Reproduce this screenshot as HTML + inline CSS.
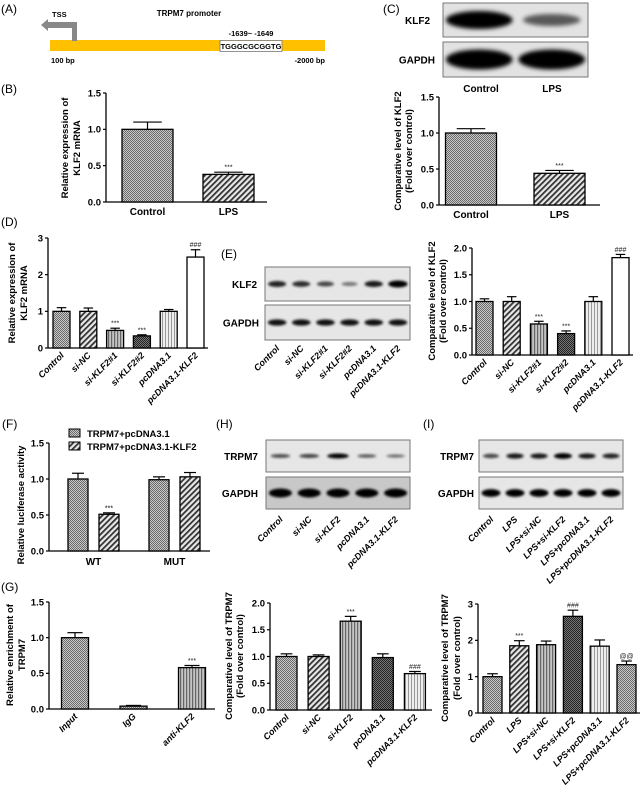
<!DOCTYPE html>
<html><head><meta charset="utf-8"><style>
html,body{margin:0;padding:0;background:#fff}
svg{display:block}
text{font-family:"Liberation Sans",Arial,sans-serif}
</style></head><body>
<svg id="fig" width="643" height="800" viewBox="0 0 643 800" xmlns="http://www.w3.org/2000/svg">
<defs>
<pattern id="chk" width="2" height="2" patternUnits="userSpaceOnUse"><rect width="2" height="2" fill="#c8c8c8"/><rect width="1" height="1" fill="#6a6a6a"/><rect x="1" y="1" width="1" height="1" fill="#6a6a6a"/></pattern>
<pattern id="diag" width="4" height="4" patternUnits="userSpaceOnUse" patternTransform="rotate(45)"><rect width="4" height="4" fill="#e8e8e8"/><rect width="1.8" height="4" fill="#333"/></pattern>
<pattern id="vs" width="3" height="3" patternUnits="userSpaceOnUse"><rect width="3" height="3" fill="#c4c4c4"/><rect width="1.2" height="3" fill="#666"/></pattern>
<pattern id="dark" width="2" height="2" patternUnits="userSpaceOnUse"><rect width="2" height="2" fill="#777"/><rect width="1" height="1" fill="#222"/><rect x="1" y="1" width="1" height="1" fill="#222"/></pattern>
<pattern id="lvs" width="3" height="3" patternUnits="userSpaceOnUse"><rect width="3" height="3" fill="#eee"/><rect width="1" height="3" fill="#999"/></pattern>
<filter id="blur" x="-20%" y="-50%" width="140%" height="200%"><feGaussianBlur stdDeviation="1.2"/></filter>
<filter id="blur2" x="-20%" y="-50%" width="140%" height="200%"><feGaussianBlur stdDeviation="2"/></filter>
</defs>
<g id="root"></g>
</svg>
<script>
// ---- data arrays ----
const bCats=['Control','LPS'];
const bVals=[1.0,0.38];
const bErrs=[0.1,0.03];
const bSig=['','***'];
const bTicks=[0,0.5,1.0,1.5];

const cCats=['Control','LPS'];
const cVals=[1.0,0.44];
const cErrs=[0.06,0.04];
const cSig=['','***'];
const cTicks=[0,0.5,1.0,1.5];
const cBand=[1.0,0.45];
const cGapdh=[1.0,1.0];

const dCats=['Control','si-NC','si-KLF2#1','si-KLF2#2','pcDNA3.1','pcDNA3.1-KLF2'];
const dVals=[1.0,1.0,0.48,0.33,1.0,2.48];
const dErrs=[0.1,0.09,0.06,0.03,0.05,0.2];
const dSig=['','','***','***','','###'];
const dTicks=[0,1,2,3];

const eCats=['Control','si-NC','si-KLF2#1','si-KLF2#2','pcDNA3.1','pcDNA3.1-KLF2'];
const eVals=[1.0,1.0,0.58,0.4,1.0,1.82];
const eErrs=[0.05,0.09,0.05,0.05,0.09,0.06];
const eSig=['','','***','***','','###'];
const eTicks=[0,0.5,1.0,1.5,2.0];
const eBand=[0.75,0.7,0.55,0.3,0.8,1.0];
const eGapdh=[0.85,0.85,0.85,0.85,0.85,0.85];

const fGroups=['WT','MUT'];
const fSeries=['TRPM7+pcDNA3.1','TRPM7+pcDNA3.1-KLF2'];
const fVals1=[1.0,0.99];
const fVals2=[0.51,1.03];
const fErrs1=[0.08,0.04];
const fErrs2=[0.02,0.06];
const fSig2=['***',''];
const fTicks=[0,0.5,1.0,1.5];

const gCats=['Input','IgG','anti-KLF2'];
const gVals=[1.0,0.04,0.58];
const gErrs=[0.07,0.01,0.03];
const gSig=['','','***'];
const gTicks=[0,0.5,1.0,1.5];

const hCats=['Control','si-NC','si-KLF2','pcDNA3.1','pcDNA3.1-KLF2'];
const hVals=[1.0,1.0,1.66,0.98,0.68];
const hErrs=[0.05,0.03,0.09,0.07,0.04];
const hSig=['','','***','','###'];
const hTicks=[0,0.5,1.0,1.5,2.0];
const hBand=[0.55,0.6,0.95,0.45,0.35];
const hGapdh=[1,1,1,1,1];

const iCats=['Control','LPS','LPS+si-NC','LPS+si-KLF2','LPS+pcDNA3.1','LPS+pcDNA3.1-KLF2'];
const iVals=[1.0,1.85,1.88,2.66,1.84,1.33];
const iErrs=[0.08,0.14,0.1,0.17,0.17,0.1];
const iSig=['','***','','###','','@@'];
const iTicks=[0,1,2,3];
const iBand=[0.55,0.8,0.8,0.95,0.8,0.75];
const iGapdh=[0.95,0.95,0.95,0.95,0.95,0.95];

// ---- helpers ----
const NS='http://www.w3.org/2000/svg';
const root=document.getElementById('root');
function el(tag,attrs,parent,txt){const e=document.createElementNS(NS,tag);for(const k in attrs)e.setAttribute(k,attrs[k]);if(txt!==undefined)e.textContent=txt;(parent||root).appendChild(e);return e;}
function fmt(v,dec){return v.toFixed(dec);}

function panelLabel(t,x,y){const e=el('text',{x:x,y:y,'font-size':12},root,t);

}

function yLabel(lines,x,cy,name){
  const g=el('g',{});
  
  
  lines.forEach((ln,i)=>{el('text',{x:0,y:0,'font-size':9.5,'font-weight':'bold','text-anchor':'middle',transform:`translate(${x[i]},${cy}) rotate(-90)`},g,ln);});
}

function chart(o){
  const g=el('g',{});
  
  
  const y=v=>o.yBot-(v/o.max)*(o.yBot-o.yTop);
  const xc=i=>o.c0+i*o.step;
  const ya=el('line',{x1:o.x0,y1:o.yTop,x2:o.x0,y2:o.yBot,stroke:'#000','stroke-width':1.3},g);
  
  
  const xa=el('line',{x1:o.x0,y1:o.yBot,x2:o.xEnd,y2:o.yBot,stroke:'#000','stroke-width':1.3},g);
  
  
  o.ticks.forEach(t=>{
    el('line',{x1:o.x0-3,y1:y(t),x2:o.x0,y2:y(t),stroke:'#000','stroke-width':1.2},g);
    const tl=el('text',{x:o.x0-5,y:y(t)+3.3,'font-size':9.5,'font-weight':'bold','text-anchor':'end'},g,fmt(t,o.dec));
    
    
  });
  o.vals.forEach((v,i)=>{
    const cx=xc(i), top=y(v), et=y(v+o.errs[i]);
    el('line',{x1:cx,y1:top,x2:cx,y2:et,stroke:'#000','stroke-width':1.2},g);
    el('line',{x1:cx-o.w*0.28,y1:et,x2:cx+o.w*0.28,y2:et,stroke:'#000','stroke-width':1.2},g);
    const b=el('rect',{x:cx-o.w/2,y:top,width:o.w,height:o.yBot-top,fill:o.pats[i],stroke:'#000','stroke-width':1.3},g);
    
    
    if(o.sig[i]){const s=el('text',{x:cx,y:et-2.5,'font-size':7,'text-anchor':'middle',fill:'#222'},g,o.sig[i]);
      
      }
    let lab;
    if(o.rot){lab=el('text',{x:0,y:0,'font-size':9,'font-weight':'bold','font-style':'italic','text-anchor':'end',transform:`translate(${cx+3},${o.yBot+8}) rotate(-45)`},g,o.cats[i]);}
    else{lab=el('text',{x:cx,y:o.yBot+13,'font-size':10,'font-weight':'bold','text-anchor':'middle'},g,o.cats[i]);}
    
    
  });
  return g;
}

function blot(o){
  const g=el('g',{});
  
  
  const n=o.band.length, lw=(o.x1-o.x0)/n;
  el('rect',{x:o.x0,y:o.y0,width:o.x1-o.x0,height:o.y1-o.y0,fill:o.bg||'#e6e6e6',stroke:'#777','stroke-width':1},g);
  o.band.forEach((v,i)=>{
    const cx=o.x0+lw*(i+0.5), cy=(o.y0+o.y1)/2;
    const e=el('ellipse',{cx:cx,cy:cy,rx:lw*o.rw*(0.75+0.25*v),ry:o.h*(0.4+0.6*v),fill:'#000','fill-opacity':Math.min(1,0.25+0.8*v),filter:o.big?'url(#blur2)':'url(#blur)'},g);
    
    
  });
  const t=el('text',{x:o.lx,y:(o.y0+o.y1)/2+4,'font-size':10,'font-weight':'bold','text-anchor':'end'},g,o.label);
  
  
}
function laneLabels(cats,x0,x1,yb,name){
  const g=el('g',{});
  
  
  const lw=(x1-x0)/cats.length;
  cats.forEach((c,i)=>{el('text',{x:0,y:0,'font-size':9,'font-weight':'bold','font-style':'italic','text-anchor':'end',transform:`translate(${x0+lw*(i+0.5)+3},${yb}) rotate(-45)`},g,c);});
}

// ---- Panel A ----
panelLabel('(A)',1,13);
(function(){
  const g=el('g',{});
  
  
  el('rect',{x:50,y:40,width:275,height:11,fill:'#ffc000'},g);
  const box=el('rect',{x:220,y:40.5,width:62,height:11,fill:'#fff',stroke:'#777','stroke-width':0.8},g);
  
  
  el('text',{x:251,y:49,'font-size':7.5,'text-anchor':'middle','font-weight':'bold'},g,'TGGGCGCGGTG');
  el('text',{x:251,y:36,'font-size':7.5,'text-anchor':'middle','font-weight':'bold'},g,'-1639~ -1649');
  el('text',{x:189,y:16,'font-size':8,'text-anchor':'middle','font-weight':'bold'},g,'TRPM7 promoter');
  el('text',{x:51,y:63,'font-size':7.5,'font-weight':'bold'},g,'100 bp');
  el('text',{x:325,y:63,'font-size':7.5,'font-weight':'bold','text-anchor':'end'},g,'-2000 bp');
  const ar=el('path',{d:'M72 41 L72 28 L48 28 L48 31 L41 25 L48 19 L48 22 L77 22 L77 41 Z',fill:'#888'},g);
  
  
  el('text',{x:52,y:17,'font-size':7.5,'font-weight':'bold'},g,'TSS');
})();

// ---- Panel C blot ----
panelLabel('(C)',383,13);
blot({name:'blot-c-klf2',x0:443,x1:588,y0:3,y1:37,band:cBand,rw:0.46,h:9,label:'KLF2',lx:430,big:true,bg:'#e2e2e2'});
blot({name:'blot-c-gapdh',x0:443,x1:588,y0:42,y1:77,band:cGapdh,rw:0.46,h:10,label:'GAPDH',lx:435,big:true,bg:'#e2e2e2'});
(function(){const g=el('g',{});


el('text',{x:481,y:92,'font-size':10,'font-weight':'bold','text-anchor':'middle'},g,'Control');
el('text',{x:552,y:92,'font-size':10,'font-weight':'bold','text-anchor':'middle'},g,'LPS');})();

// ---- Panel B ----
panelLabel('(B)',1,93);
chart({name:'chart-b',x0:106,yTop:93,yBot:202,xEnd:267,max:1.5,ticks:bTicks,dec:1,cats:bCats,vals:bVals,errs:bErrs,sig:bSig,pats:['url(#chk)','url(#diag)'],c0:147.5,step:81,w:51});
yLabel(['Relative expression of','KLF2 mRNA'],[68,80],148,'y-axis-title-b');

// ---- Panel C chart ----
chart({name:'chart-c',x0:439,yTop:97,yBot:205,xEnd:600,max:1.5,ticks:cTicks,dec:1,cats:cCats,vals:cVals,errs:cErrs,sig:cSig,pats:['url(#chk)','url(#diag)'],c0:471,step:88.5,w:51});
yLabel(['Comparative level of KLF2','(Fold over control)'],[401,412],151,'y-axis-title-c');

// ---- Panel D ----
panelLabel('(D)',1,226);
const six=['url(#chk)','url(#diag)','url(#vs)','url(#dark)','url(#lvs)','#fff'];
chart({name:'chart-d',x0:48,yTop:238,yBot:348,xEnd:208,max:3,ticks:dTicks,dec:0,cats:dCats,vals:dVals,errs:dErrs,sig:dSig,pats:six,c0:61.5,step:26.8,w:17,rot:true});
yLabel(['Relative expression of','KLF2 mRNA'],[15,27],293,'y-axis-title-d');

// ---- Panel E ----
panelLabel('(E)',221,258);
blot({name:'blot-e-klf2',x0:265,x1:410,y0:267,y1:301,band:eBand,rw:0.4,h:3.5,label:'KLF2',lx:257});
blot({name:'blot-e-gapdh',x0:265,x1:410,y0:305,y1:340,band:eGapdh,rw:0.4,h:3.5,label:'GAPDH',lx:259});
laneLabels(eCats,265,410,349,'blot-e-lane-labels');
chart({name:'chart-e',x0:472,yTop:248,yBot:355,xEnd:633,max:2,ticks:eTicks,dec:1,cats:eCats,vals:eVals,errs:eErrs,sig:eSig,pats:six,c0:484.5,step:27.2,w:17,rot:true});
yLabel(['Comparative level of KLF2','(Fold over control)'],[435,446],301,'y-axis-title-e');

// ---- Panel F ----
panelLabel('(F)',2,428);
(function(){
  const g=el('g',{});
  
  
  const x0=49,yTop=443,yBot=551,xEnd=210,max=1.5;
  const y=v=>yBot-(v/max)*(yBot-yTop);
  const gc=[93.5,174.5], off=15.5, w=20;
  el('line',{x1:x0,y1:yTop,x2:x0,y2:yBot,stroke:'#000','stroke-width':1.3},g);
  el('line',{x1:x0,y1:yBot,x2:xEnd,y2:yBot,stroke:'#000','stroke-width':1.3},g);
  fTicks.forEach(t=>{el('line',{x1:x0-3,y1:y(t),x2:x0,y2:y(t),stroke:'#000','stroke-width':1.2},g);
    el('text',{x:x0-5,y:y(t)+3.3,'font-size':9.5,'font-weight':'bold','text-anchor':'end'},g,t.toFixed(1));});
  const series=[[fVals1,fErrs1,'url(#chk)',-1,['','']],[fVals2,fErrs2,'url(#diag)',1,fSig2]];
  fGroups.forEach((gn,gi)=>{
    series.forEach(s=>{
      const v=s[0][gi], e=s[1][gi], cx=gc[gi]+s[3]*off, top=y(v), et=y(v+e);
      el('line',{x1:cx,y1:top,x2:cx,y2:et,stroke:'#000','stroke-width':1.2},g);
      el('line',{x1:cx-6,y1:et,x2:cx+6,y2:et,stroke:'#000','stroke-width':1.2},g);
      const b=el('rect',{x:cx-w/2,y:top,width:w,height:yBot-top,fill:s[2],stroke:'#000','stroke-width':1.3},g);
      
      
      if(s[4][gi]) el('text',{x:cx,y:et-2.5,'font-size':7,'text-anchor':'middle'},g,s[4][gi]);
    });
    el('text',{x:gc[gi],y:yBot+14,'font-size':10,'font-weight':'bold','text-anchor':'middle'},g,gn);
  });
  const pats=['url(#chk)','url(#diag)'];
  fSeries.forEach((s,i)=>{
    const lg=el('g',{},g);
    
    
    el('rect',{x:69,y:429+i*13,width:11,height:8,fill:pats[i],stroke:'#000','stroke-width':1},lg);
    el('text',{x:87,y:437+i*13,'font-size':9.5,'font-weight':'bold'},lg,s);
  });
})();
yLabel(['Relative luciferase activity'],[24],505,'y-axis-title-f');

// ---- Panel H blot ----
panelLabel('(H)',216,428);
blot({name:'blot-h-trpm7',x0:266,x1:410,y0:440,y1:472,band:hBand,rw:0.38,h:2.6,label:'TRPM7',lx:258});
blot({name:'blot-h-gapdh',x0:266,x1:410,y0:477,y1:509,band:hGapdh,rw:0.4,h:4.5,label:'GAPDH',lx:258,bg:'#c8c8c8'});
laneLabels(hCats,266,410,520,'blot-h-lane-labels');

// ---- Panel I blot ----
panelLabel('(I)',423,428);
blot({name:'blot-i-trpm7',x0:479,x1:623,y0:440,y1:472,band:iBand,rw:0.38,h:3,label:'TRPM7',lx:474});
blot({name:'blot-i-gapdh',x0:479,x1:623,y0:477,y1:509,band:iGapdh,rw:0.4,h:4,label:'GAPDH',lx:474});
laneLabels(iCats,479,623,520,'blot-i-lane-labels');

// ---- Panel G ----
panelLabel('(G)',1,591);
chart({name:'chart-g',x0:49,yTop:602,yBot:709,xEnd:215,max:1.5,ticks:gTicks,dec:1,cats:gCats,vals:gVals,errs:gErrs,sig:gSig,pats:['url(#chk)','url(#chk)','url(#vs)'],c0:75,step:58.5,w:27,rot:true});
yLabel(['Relative enrichment of','TRPM7'],[13,25],655,'y-axis-title-g');

// ---- Panel H chart ----
chart({name:'chart-h',x0:270,yTop:603,yBot:710,xEnd:432,max:2,ticks:hTicks,dec:1,cats:hCats,vals:hVals,errs:hErrs,sig:hSig,pats:['url(#chk)','url(#diag)','url(#vs)','url(#dark)','url(#lvs)'],c0:286.5,step:32.1,w:21,rot:true});
yLabel(['Comparative level of TRPM7','(Fold over control)'],[232,243],656,'y-axis-title-h');

// ---- Panel I chart ----
chart({name:'chart-i',x0:478,yTop:604,yBot:713,xEnd:640,max:3,ticks:iTicks,dec:0,cats:iCats,vals:iVals,errs:iErrs,sig:iSig,pats:['url(#chk)','url(#diag)','url(#vs)','url(#dark)','url(#lvs)','url(#chk)'],c0:492.5,step:26.8,w:19,rot:true});
yLabel(['Comparative level of TRPM7','(Fold over control)'],[448,460],658,'y-axis-title-i');
</script>
</body></html>
